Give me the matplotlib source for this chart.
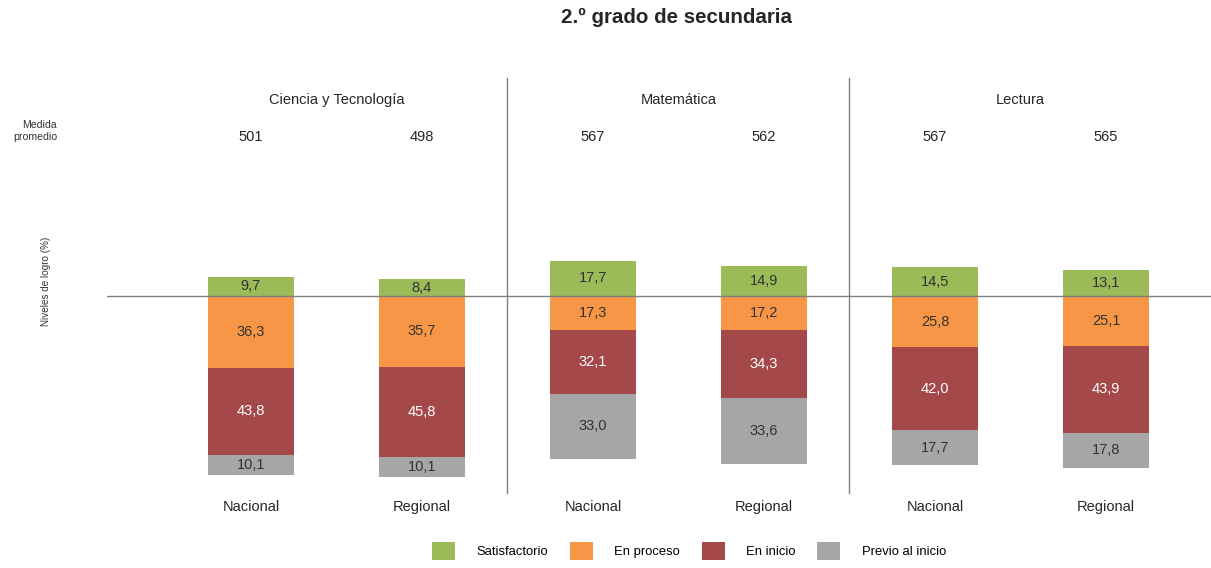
import matplotlib.pyplot as plt
import numpy as np
from matplotlib.patches import Patch

plt.rcParams['font.family'] = ['Liberation Sans', 'DejaVu Sans']

# data
areas = ["Ciencia y Tecnología", "Matemática", "Lectura"]
grupos = ["Nacional", "Regional"] * 3
medida = [501, 498, 567, 562, 567, 565]
satisfactorio = [9.7, 8.4, 17.7, 14.9, 14.5, 13.1]
en_proceso = [36.3, 35.7, 17.3, 17.2, 25.8, 25.1]
en_inicio = [43.8, 45.8, 32.1, 34.3, 42.0, 43.9]
previo = [10.1, 10.1, 33.0, 33.6, 17.7, 17.8]

niveles = ["Satisfactorio", "En proceso", "En inicio", "Previo al inicio"]
colores = ["#9BBB59", "#F79646", "#A5484A", "#A6A6A6"]
txt_col = ["#333333", "#333333", "white", "#333333"]

W, H = 1211, 568
fig = plt.figure(figsize=(W / 100, H / 100), dpi=100)
ax = fig.add_axes([107 / W, 0, 1 - 107 / W, 1])
ax.set_xlim(-0.842, 5.614)
ax.set_ylim(-137.4, 149.5)
ax.axis("off")

x = np.arange(len(grupos))
sat = np.array(satisfactorio)
pro = np.array(en_proceso)
ini = np.array(en_inicio)
pre = np.array(previo)

def fmt(v):
    return f"{v:.1f}".replace(".", ",")

stacks = [
    (sat, np.zeros_like(sat)),
    (-pro, np.zeros_like(pro)),
    (-ini, -pro),
    (-pre, -pro - ini),
]
vals = [sat, pro, ini, pre]
for (h, b), v, c, tc in zip(stacks, vals, colores, txt_col):
    bars = ax.bar(x, h, bottom=b, width=0.5, color=c, zorder=2)
    ax.bar_label(bars, labels=[fmt(i) for i in v], label_type="center",
                 color=tc, fontsize=10.5)

ax.axhline(0, color="#808080", lw=1, zorder=3)
for sx in [1.5, 3.5]:
    ax.plot([sx, sx], [-99.5, 110], color="#808080", lw=1)

for i, a in enumerate(areas):
    ax.text(2 * i + 0.5, 99, a, ha="center", va="center", fontsize=10.5, color="#262626")
for xi, m in zip(x, medida):
    ax.text(xi, 80.3, str(m), ha="center", va="center", fontsize=10.5, color="#262626")
for xi, g in zip(x, grupos):
    ax.text(xi, -106.6, g, ha="center", va="center", fontsize=10.5, color="#262626")

fig.text(677 / W, 1 - 17 / H, "2.º grado de secundaria", ha="center", va="center",
         fontsize=14.8, fontweight="bold", color="#262626")
fig.text(57 / W, 1 - 131 / H, "Medida\npromedio", ha="right", va="center",
         fontsize=7.6, color="#333333", linespacing=1.3)
fig.text(46 / W, 1 - 281 / H, "Niveles de logro (%)", ha="center", va="center",
         rotation=90, fontsize=7.1, color="#333333")

handles = [Patch(facecolor=c, label=n) for c, n in zip(colores, niveles)]
fig.legend(handles=handles, loc="center", bbox_to_anchor=(689 / W, 1 - 551 / H),
           ncol=4, frameon=False, fontsize=9.4, handlelength=1.76, handleheight=1.76,
           handletextpad=1.65, columnspacing=1.65)

fig.savefig("out.png", dpi=100)
